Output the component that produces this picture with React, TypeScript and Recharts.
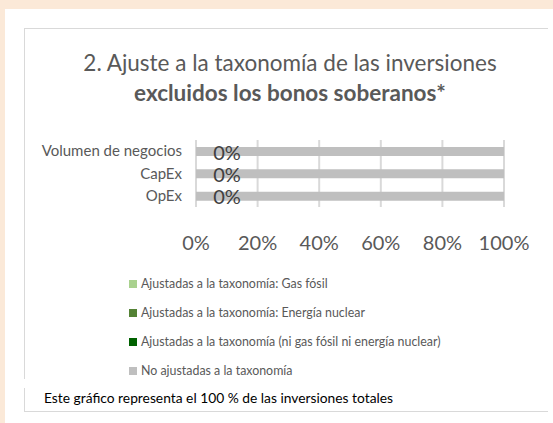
import React from 'react';
import { BarChart, Bar, XAxis, YAxis, CartesianGrid, LabelList } from 'recharts';

const categories = ['Volumen de negocios', 'CapEx', 'OpEx'];
const gasFosil = [0, 0, 0];
const energiaNuclear = [0, 0, 0];
const otrasAjustadas = [0, 0, 0];
const noAjustadas = [100, 100, 100];
const xTicks = [0, 20, 40, 60, 80, 100];

const series = [
  { key: 'gas', name: 'Ajustadas a la taxonomía: Gas fósil', color: '#A9D18E', values: gasFosil },
  { key: 'nuclear', name: 'Ajustadas a la taxonomía: Energía nuclear', color: '#548235', values: energiaNuclear },
  { key: 'otras', name: 'Ajustadas a la taxonomía (ni gas fósil ni energía nuclear)', color: '#006100', values: otrasAjustadas },
  { key: 'no', name: 'No ajustadas a la taxonomía', color: '#BFBFBF', values: noAjustadas },
];

const data = categories.map((name, i) => {
  const row: Record<string, string | number> = { name };
  series.forEach((s) => {
    row[s.key] = s.values[i];
  });
  return row;
});

const FONT = 'Lato, "Open Sans", sans-serif';

// "0%" label of the aligned share, placed at the start of the stacked row
const ZeroLabel = (props: any) => {
  const { x, y, height, value } = props;
  return (
    <text
      x={x + 31}
      y={y + height / 2}
      textAnchor="middle"
      dominantBaseline="central"
      fontSize={20}
      fill="#404040"
      fontFamily={FONT}
    >
      {`${value}%`}
    </text>
  );
};

export default function App() {
  return (
    <div style={{ position: 'absolute', left: 0, top: 0, width: 553, height: 423, background: '#FBE9D8', fontFamily: FONT }}>
      <div style={{ position: 'absolute', left: 5, top: 9, width: 548, height: 414, background: '#fff' }} />
      {/* chart frame */}
      <div style={{ position: 'absolute', left: 24, top: 28, width: 523, height: 350, borderTop: '1px solid #D9D9D9', borderLeft: '1px solid #D9D9D9' }} />
      {/* title */}
      <div style={{ position: 'absolute', left: 24, top: 48, width: 532, textAlign: 'center', color: '#595959', fontSize: 22.5, lineHeight: '30px' }}>
        <div>2. Ajuste a la taxonomía de las inversiones</div>
        <div style={{ fontWeight: 'bold' }}>excluidos los bonos soberanos*</div>
      </div>
      <div style={{ position: 'absolute', left: 0, top: 0 }}>
        <BarChart
          width={553}
          height={260}
          data={data}
          layout="vertical"
          margin={{ top: 140, right: 49, left: 0, bottom: 13 }}
          barSize={9}
        >
          <CartesianGrid horizontal={false} stroke="#D9D9D9" strokeWidth={2} />
          <XAxis
            type="number"
            domain={[0, 100]}
            ticks={xTicks}
            tickFormatter={(v) => `${v}%`}
            axisLine={false}
            tickLine={false}
            tickMargin={23}
            height={40}
            tick={{ fontSize: 20, fill: '#595959', fontFamily: FONT }}
          />
          <YAxis
            type="category"
            dataKey="name"
            width={196}
            axisLine={false}
            tickLine={false}
            tickMargin={8}
            tick={{ fontSize: 15, fill: '#595959', fontFamily: FONT }}
          />
          {series.map((s) => (
            <Bar key={s.key} dataKey={s.key} name={s.name} stackId="a" fill={s.color} isAnimationActive={false}>
              {s.key === 'no' ? <LabelList dataKey="otras" content={ZeroLabel} /> : null}
            </Bar>
          ))}
        </BarChart>
      </div>
      {/* legend */}
      <div style={{ position: 'absolute', left: 129, top: 269 }}>
        {series.map((s) => (
          <div key={s.key} style={{ display: 'flex', alignItems: 'center', height: 29, fontSize: 12.4, color: '#595959' }}>
            <span style={{ display: 'inline-block', width: 8, height: 8, background: s.color, marginRight: 4 }} />
            <span>{s.name}</span>
          </div>
        ))}
      </div>
      {/* footer */}
      <div style={{ position: 'absolute', left: 24, top: 388, width: 523, height: 23, borderLeft: '1px solid #D9D9D9', borderBottom: '1px solid #D9D9D9' }} />
      <div style={{ position: 'absolute', left: 44, top: 389, fontSize: 13.8, color: '#000', lineHeight: '18px' }}>
        Este gráfico representa el 100 % de las inversiones totales
      </div>
    </div>
  );
}
